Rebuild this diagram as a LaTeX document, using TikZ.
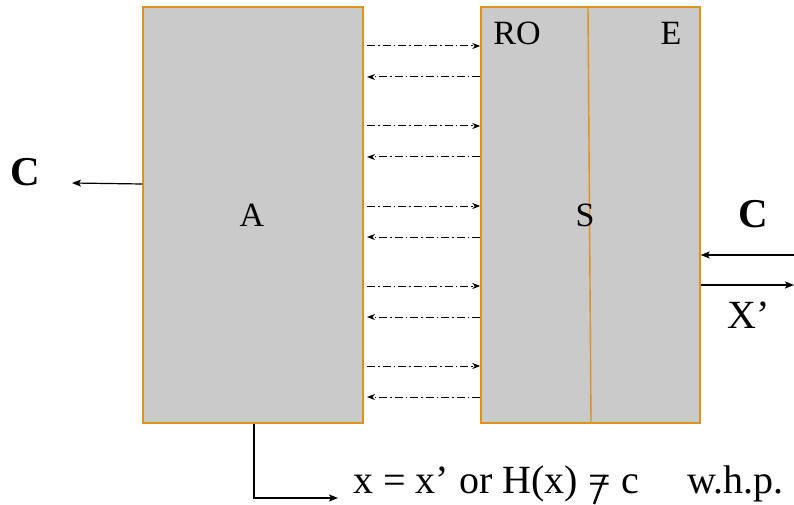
\documentclass[tikz,border=0pt]{standalone}
\usepackage{fontspec}
\setmainfont{Liberation Serif}
\usetikzlibrary{arrows.meta,calc}
\definecolor{boxfill}{RGB}{202,202,202}
\definecolor{boxline}{RGB}{226,145,22}
\tikzset{
  block/.style={draw=boxline, fill=boxfill, line width=1.4pt, inner sep=0pt},
  lbl/.style={font=\fontsize{34}{38}\selectfont, inner sep=0pt},
  clbl/.style={font=\fontsize{41}{44}\selectfont\bfseries, inner sep=0pt},
  btxt/.style={font=\fontsize{40}{44}\selectfont, inner sep=0pt, anchor=base west},
  msg/.style={line width=1pt, dash pattern=on 8pt off 3pt on 1.5pt off 3pt, -{Stealth[length=8pt,width=6pt]}},
  io/.style={line width=1.2pt, -{Stealth[length=9pt,width=7pt,inset=2pt]}}
}
\begin{document}
\begin{tikzpicture}[x=1pt,y=-1pt]
\useasboundingbox (0,0) rectangle (794,505);
\node[block, minimum width=220pt, minimum height=416pt] (A) at (253,215) {};
\node[block, minimum width=219pt, minimum height=416pt] (S) at (590.5,215) {};
\draw[boxline, line width=1.4pt] (588,7) coordinate (d1) -- (591,423) coordinate (d2);
\node[lbl] (la) at (252,215) {A};
\node[lbl] (ls) at (585,215) {S};
\node[lbl] (lro) at (517,33) {RO};
\node[lbl] (le) at (671,33) {E};
% message arrows
\foreach \y in {46,126,206,286,366}{
  \draw[msg] (367,\y) -- (S.west |- {0,\y});
}
\foreach \y in {77,157,237,317,397}{
  \draw[msg] (S.west |- {0,\y}) -- (367,\y);
}
% left output C
\coordinate (cl) at (72,183);
\draw[io] (A.west |- {0,184}) -- (cl);
\node[clbl] (C1) at (25,172) {C};
% right side
\coordinate (cin) at (794,255);
\coordinate (xout) at (794,285);
\draw[io] (cin) -- (S.east |- cin);
\draw[io] (S.east |- xout) -- (xout);
\node[clbl] (C2) at (753,214) {C};
\node[lbl, font=\fontsize{40}{44}\selectfont] (X) at (749,315) {X’};
% bottom
\coordinate (b1) at (254,498);
\coordinate (b2) at (338,498);
\draw[io] (A.south -| b1) -- (b1) -- (b2);
\node[btxt] (res) at (353,493) {x = x’ or H(x)};
\node[btxt] (neq) at (588,493) {=};
\node[btxt] (cc) at (621,493) {c};
\node[btxt, anchor=base east] (whp) at (784,493) {w.h.p.};
\draw[line width=2.4pt] (605,475) -- (594,504);
\end{tikzpicture}
\end{document}
